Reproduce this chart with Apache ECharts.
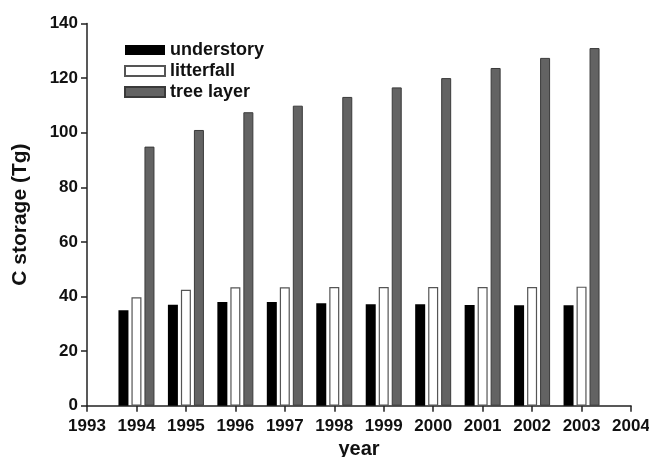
<!DOCTYPE html>
<html>
<head>
<meta charset="utf-8">
<script src="https://cdn.jsdelivr.net/npm/echarts@6/dist/echarts.min.js"></script>
<style>
  html, body { margin: 0; padding: 0; background: #fff; }
  #chart { width: 649px; height: 457px; }
</style>
</head>
<body>
<div id="chart"></div>
<script>
// Carbon storage by layer, 1994–2003 (Tg)
const years = [1994, 1995, 1996, 1997, 1998, 1999, 2000, 2001, 2002, 2003];
const understory = [35.0, 37.0, 38.0, 38.0, 37.5, 37.2, 37.2, 36.9, 36.8, 36.8];
const litterfall = [39.7, 42.5, 43.4, 43.4, 43.5, 43.5, 43.5, 43.5, 43.5, 43.6];
const treeLayer = [94.9, 101.0, 107.5, 109.9, 113.1, 116.6, 120.0, 123.7, 127.4, 131.0];
const seriesNames = ['understory', 'litterfall', 'tree layer'];

const FONT = '"Liberation Sans", Arial, sans-serif';
const pairs = (vals) => years.map((y, i) => [y, vals[i]]);

const chart = echarts.init(document.getElementById('chart'), null, { renderer: 'canvas' });

const barBase = { type: 'bar', barWidth: 10, barGap: '30%', animation: false };

chart.setOption({
  backgroundColor: '#ffffff',
  animation: false,
  grid: { left: 87, right: 18, top: 23.5, bottom: 51.3, containLabel: false, outerBoundsMode: 'none' },
  legend: {
    orient: 'vertical',
    left: 119,
    top: 36,
    itemWidth: 40,
    itemHeight: 10,
    itemGap: 3,
    icon: 'rect',
    textStyle: { fontFamily: FONT, fontSize: 18, fontWeight: 'bold', color: '#111', lineHeight: 18 },
    data: seriesNames
  },
  xAxis: {
    type: 'value',
    min: 1993,
    max: 2004,
    interval: 1,
    name: 'year',
    nameLocation: 'middle',
    nameGap: 25,
    nameTextStyle: { fontFamily: FONT, fontSize: 20, fontWeight: 'bold', color: '#111' },
    axisLine: { show: true, lineStyle: { color: '#222', width: 1.5 } },
    axisTick: { show: true, length: 6, inside: false, lineStyle: { color: '#222', width: 1.5 } },
    axisLabel: {
      margin: 12,
      fontFamily: FONT, fontSize: 17, fontWeight: 'bold', color: '#111',
      formatter: (v) => String(v)
    },
    splitLine: { show: false }
  },
  yAxis: {
    type: 'value',
    min: 0,
    max: 140,
    interval: 20,
    name: 'C storage (Tg)',
    nameLocation: 'middle',
    nameGap: 56,
    nameRotate: 90,
    nameTextStyle: { fontFamily: FONT, fontSize: 21, fontWeight: 'bold', color: '#111' },
    axisLine: { show: true, lineStyle: { color: '#222', width: 1.5 } },
    axisTick: { show: true, length: 6, lineStyle: { color: '#222', width: 1.5 } },
    axisLabel: { margin: 9, fontFamily: FONT, fontSize: 17, fontWeight: 'bold', color: '#111' },
    splitLine: { show: false }
  },
  series: [
    Object.assign({}, barBase, {
      name: seriesNames[0],
      data: pairs(understory),
      itemStyle: { color: '#000000', borderColor: '#000000', borderWidth: 0 }
    }),
    Object.assign({}, barBase, {
      name: seriesNames[1],
      data: pairs(litterfall),
      itemStyle: { color: '#ffffff', borderColor: '#555555', borderWidth: 1.2 }
    }),
    Object.assign({}, barBase, {
      name: seriesNames[2],
      data: pairs(treeLayer),
      itemStyle: { color: '#636363', borderColor: '#3a3a3a', borderWidth: 1 }
    })
  ]
});
</script>
</body>
</html>
